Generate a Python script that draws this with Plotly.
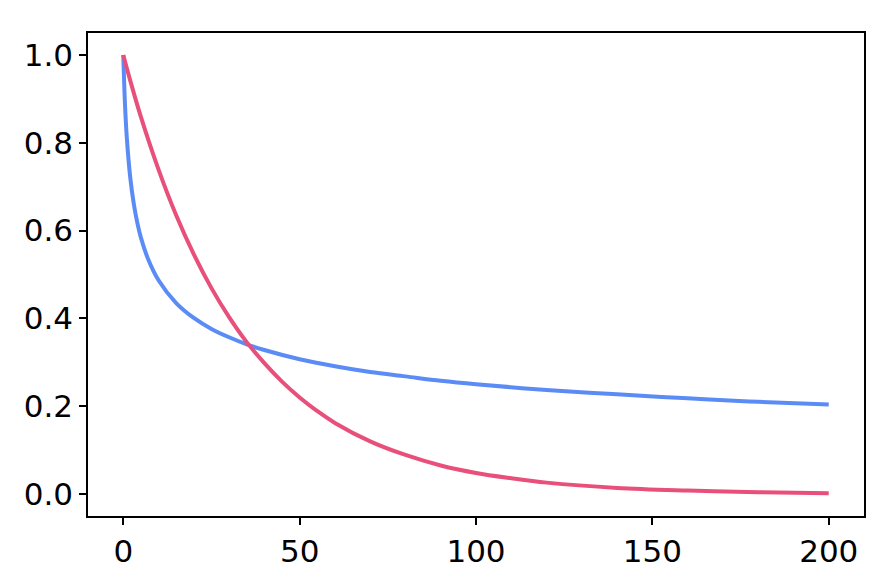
import plotly.graph_objects as go

# -- datos
x_azul = [0, 0.5, 1, 2, 3, 4, 5, 7, 10, 15, 20, 25, 30, 35, 40, 50, 60, 70, 80, 90,
          100, 120, 140, 160, 180, 200]
y_azul = [1.0, 0.885, 0.812, 0.719, 0.660, 0.617, 0.584, 0.536, 0.487, 0.435, 0.401,
          0.376, 0.357, 0.341, 0.328, 0.307, 0.291, 0.278, 0.268, 0.258, 0.250, 0.237,
          0.227, 0.218, 0.210, 0.204]

x_rojo = [0, 2, 5, 10, 15, 20, 25, 30, 35, 40, 45, 50, 55, 60, 70, 80, 90, 100, 110,
          120, 140, 160, 180, 200]
y_rojo = [1.0, 0.941, 0.859, 0.739, 0.635, 0.546, 0.469, 0.403, 0.346, 0.298, 0.256,
          0.220, 0.189, 0.162, 0.120, 0.089, 0.065, 0.048, 0.036, 0.026, 0.014, 0.008,
          0.004, 0.002]

x_ticks = [0, 50, 100, 150, 200]
y_ticks = [0.0, 0.2, 0.4, 0.6, 0.8, 1.0]

fig = go.Figure()
fig.add_trace(go.Scatter(x=x_azul, y=y_azul, mode='lines', line_shape='spline',
                         line=dict(color='#5B8CF6', width=4)))
fig.add_trace(go.Scatter(x=x_rojo, y=y_rojo, mode='lines', line_shape='spline',
                         line=dict(color='#E8507B', width=4)))

eje = dict(showgrid=False, zeroline=False, showline=True, linecolor='black', linewidth=1.5,
           mirror=True, ticks='outside', ticklen=7, tickwidth=1.5, tickcolor='black',
           automargin=False,
           tickfont=dict(family='DejaVu Sans', size=31, color='black'))

# la pagina deja 8px de margen en el body, se compensa aqui
fig.update_layout(width=866, height=562, autosize=False, showlegend=False,
                  plot_bgcolor='white', paper_bgcolor='white',
                  margin=dict(l=80, r=10, t=25, b=54, pad=0),
                  xaxis=dict(range=[-10, 210], tickvals=x_ticks,
                             ticktext=[str(v) for v in x_ticks], **eje),
                  yaxis=dict(range=[-0.05, 1.05], tickvals=y_ticks,
                             ticktext=['%.1f' % v for v in y_ticks], **eje))

fig.write_html("out.html")
